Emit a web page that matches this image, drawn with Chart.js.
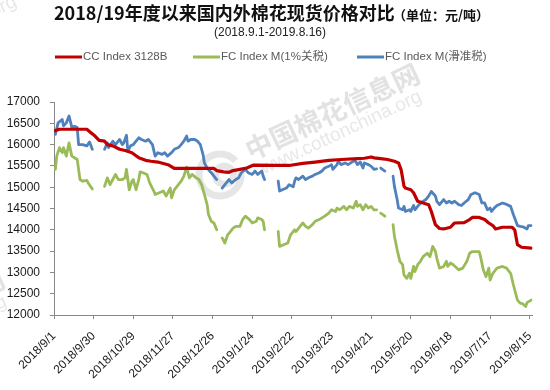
<!DOCTYPE html>
<html>
<head>
<meta charset="utf-8">
<script src="https://cdn.jsdelivr.net/npm/chart.js@4.4.1/dist/chart.umd.min.js"></script>
<style>
  html, body { margin: 0; padding: 0; background: #fff; }
  #wrap { width: 550px; height: 390px; }
</style>
</head>
<body>
<div id="wrap"><canvas id="chart" width="550" height="390"></canvas></div>
<script>
"use strict";

// x values are days counted from 2018/9/1
const tickDays = [0, 29, 58, 87, 116, 145, 174, 203, 232, 261, 290, 319, 348];
const tickLabels = ["2018/9/1", "2018/9/30", "2018/10/29", "2018/11/27", "2018/12/26", "2019/1/24",
  "2019/2/22", "2019/3/23", "2019/4/21", "2019/5/20", "2019/6/18", "2019/7/17", "2019/8/15"];

const seriesNames = ["CC Index 3128B", "FC Index M(1%关税)", "FC Index M(滑准税)"];

// CC Index 3128B
const ccDays = [0, 4, 24, 27, 30, 33, 37, 39, 43, 48, 52, 57, 62, 67, 71, 76, 84, 88, 117, 119,
  124, 128, 131, 136, 141, 146, 162, 172, 182, 191, 201, 210, 222, 227, 232, 234, 239, 244, 249, 252,
  254, 256, 257, 261, 263, 266, 270, 274, 276, 279, 282, 285, 290, 293, 300, 304, 306, 311, 315, 318,
  321, 323, 328, 335, 337, 339, 342, 349];
const ccValues = [16320, 16360, 16360, 16280, 16200, 16100, 16080, 16000, 15970, 15890, 15860, 15810, 15690, 15630, 15610, 15590, 15520, 15440, 15440, 15390,
  15360, 15350, 15390, 15420, 15450, 15520, 15510, 15510, 15560, 15590, 15630, 15650, 15670, 15680, 15710, 15690, 15670, 15650, 15610, 15570,
  15400, 15020, 14980, 14940, 14870, 14670, 14630, 14590, 14430, 14120, 14030, 14020, 14060, 14160, 14170, 14240, 14290, 14290, 14240, 14160,
  14100, 14020, 14060, 14060, 14000, 13650, 13590, 13570];

// FC Index M (1% tariff), null = no quote
const fc1Days = [1, 2, 4, 6, 7, 9, 11, 13, 15, 17, 19, 21, 24, 25, 28, 32,
  37, 39, 41, 43, 45, 47, 50, 52, 53, 55, 57, 58, 60, 62, 63, 65, 68, 70, 73, 74, 77, 80, 82, 85,
  86, 88, 91, 93, 95, 97, 99, 101, 104, 106, 108, 110, 112, 113, 115, 117, 118, 119, 121,
  123, 125, 127, 129, 131, 133, 136, 138, 140, 143, 145, 148, 149, 152, 153, 154, 160,
  164, 165, 168, 171, 173, 176, 177, 180, 182, 184, 186, 189, 191, 194, 196, 198, 201, 203, 206, 207,
  209, 212, 214, 216, 219, 221, 222, 224, 226, 228, 230, 232, 234, 236, 237, 239, 242, 244,
  248, 249, 251, 253, 255, 256, 258, 260, 261, 263, 264, 266, 268, 270, 273, 275, 277, 279, 280, 282,
  285, 287, 288, 290, 292, 294, 296, 299, 302, 304, 306, 311, 312, 314, 316, 318, 319, 321, 324, 328,
  331, 334, 336, 339, 341, 343, 345, 346, 349];
const fc1Values = [15420, 15730, 15930, 15810, 15930, 15730, 16040, 15730, 15690, 15650, 15180, 15140, 15160, 15100, 14960, null,
  15020, 15220, 15060, 15180, 15300, 15180, 15180, 15220, 15420, 14940, 15140, 15180, 14940, 15180, 15360, 15340, 15300, 15100, 14910, 14830, 14870, 14910, 14790, 14980,
  14750, 14940, 15060, 15140, 15260, 15470, 15220, 15300, 15220, 15180, 15060, 14830, 14590, 14360, 14200, 14160, 14080, 14000, null,
  13810, 13690, 13880, 13960, 14040, 14080, 14080, 14240, 14320, 14240, 14160, 14200, 14280, 14240, 14200, 14000, null,
  13960, 13610, 13650, 13690, 13880, 14000, 13960, 14080, 14160, 14080, 14040, 14120, 14200, 14240, 14280, 14320, 14390, 14470, 14430, 14510,
  14470, 14550, 14470, 14550, 14510, 14670, 14550, 14590, 14470, 14590, 14510, 14550, 14470, 14470, null, 14390, 14320, null,
  14120, 13850, 13530, 13260, 13180, 12940, 12860, 12980, 12860, 13140, 13020, 13180, 13260, 13370, 13450, 13370, 13610, 13490, 13330, 13100,
  13140, 13260, 13140, 13220, 13180, 13120, 13060, 13100, 13260, 13450, 13490, 13490, 13370, 13060, 12900, 13100, 12820, 12980, 13100, 13140,
  13100, 12980, 12710, 12350, 12280, 12260, 12200, 12290, 12350];

// FC Index M (sliding-scale duty), null = no quote
const fcsDays = [1, 3, 6, 7, 9, 11, 13, 15, 17, 18, 21, 24, 26, 28, 32,
  37, 39, 40, 43, 45, 48, 50, 51, 53, 54, 56, 58, 60, 62, 64, 67, 69, 72, 74, 76, 79, 81, 83, 86,
  88, 91, 93, 95, 97, 98, 100, 103, 105, 107, 109, 110, 112, 115, 117, 119, 121,
  123, 125, 128, 130, 133, 135, 137, 140, 142, 145, 147, 149, 152, 153, 154, 160,
  164, 165, 167, 170, 172, 175, 176, 177, 179, 182, 184, 186, 189, 191, 194, 196, 198, 201, 203, 204,
  207, 208, 210, 213, 215, 218, 220, 222, 224, 226, 227, 230, 232, 234, 236, 237, 239, 242, 244,
  248, 249, 251, 252, 255, 256, 257, 260, 261, 262, 263, 264, 267, 269, 272, 274, 276, 278, 279, 280,
  282, 285, 287, 289, 291, 293, 296, 298, 300, 303, 305, 308, 311, 313, 315, 317, 319, 320, 322, 324,
  328, 330, 334, 336, 339, 341, 343, 346, 347, 349];
const fcsValues = [16240, 16510, 16590, 16440, 16510, 16670, 16410, 16430, 16400, 16000, 16000, 15970, 16060, 15890, null,
  15890, 16040, 15930, 16080, 16000, 16120, 16000, 16040, 16220, 15850, 15970, 16000, 16080, 16160, 16120, 16080, 16120, 16000, 15730, 15810, 15770, 15810, 15730, 15810,
  15890, 15930, 16000, 16080, 16200, 16080, 16120, 16120, 16080, 16000, 15770, 15570, 15450, 15340, 15260, 15180, null,
  14980, 15060, 15180, 15100, 15180, 15220, 15340, 15420, 15340, 15300, 15380, 15300, 15380, 15260, 15180, null,
  15140, 14910, 14940, 14980, 15060, 15010, 15140, 15220, 15180, 15260, 15180, 15220, 15260, 15300, 15340, 15380, 15450, 15490, 15530, 15420,
  15530, 15610, 15530, 15570, 15530, 15590, 15630, 15530, 15590, 15450, 15570, 15530, 15490, 15420, 15430, null, 15450, 15380, null,
  15260, 15020, 14710, 14510, 14470, 14550, 14430, 14470, 14430, 14510, 14570, 14470, 14590, 14650, 14710, 14790, 14900, 14830, 14790, 14670,
  14590, 14710, 14630, 14670, 14630, 14670, 14590, 14570, 14630, 14710, 14830, 14870, 14830, 14630, 14630, 14470, 14510, 14430, 14510, 14570,
  14630, 14610, 14550, 14360, 14100, 14080, 14070, 14020, 14100, 14100];

const seriesColors = ["#C00000", "#9BBB59", "#4F81BD"];

let toPoints = (days, values) => days.map((d, i) => ({ x: d, y: values[i] }));

const latin = "'Liberation Sans', 'Noto Sans CJK SC', sans-serif";
const cjk = "'Noto Sans CJK SC', 'Liberation Sans', sans-serif";

// faint site watermark, drawn under the lines
let drawWatermark = ctx => {
  let spots = [[0, 0], [-415, 205], [-405, -95]];
  for (let [dx, dy] of spots) {
    ctx.save();
    ctx.translate(220 + dx, 175 + dy);
    ctx.rotate(-25 * Math.PI / 180);
    ctx.strokeStyle = "#e6e6e6";
    ctx.lineWidth = 7;
    ctx.beginPath();
    ctx.arc(0, 0, 21, 0.3, 2 * Math.PI - 0.3);
    ctx.stroke();
    ctx.beginPath();
    ctx.arc(4, 2, 9, 0, 2 * Math.PI);
    ctx.stroke();
    ctx.fillStyle = "#e2e2e2";
    ctx.textBaseline = "middle";
    ctx.font = "bold 27px " + cjk;
    ctx.fillText("中国棉花信息网", 34, -10);
    ctx.fillStyle = "#e8e8e8";
    ctx.font = "19px " + latin;
    ctx.fillText("www.cottonchina.org", 40, 13);
    ctx.restore();
  }
};

const headerPlugin = {
  id: "header",
  beforeDatasetsDraw(chart) {
    drawWatermark(chart.ctx);
  },
  afterDraw(chart) {
    let ctx = chart.ctx;
    ctx.save();
    ctx.textBaseline = "middle";
    ctx.fillStyle = "#111";
    ctx.font = "bold 18px " + cjk;
    ctx.fillText("2018/19年度以来国内外棉花现货价格对比", 54, 13);
    ctx.font = "bold 13px " + cjk;
    ctx.fillText("（单位：元/吨）", 393, 15);
    ctx.fillStyle = "#222";
    ctx.font = "12px " + latin;
    ctx.textAlign = "center";
    ctx.fillText("(2018.9.1-2019.8.16)", 270, 33);

    // legend
    ctx.textAlign = "left";
    ctx.font = "11.5px " + latin;
    let legendX = [55, 193, 357];
    chart.data.datasets.forEach((ds, i) => {
      let x = legendX[i];
      ctx.strokeStyle = ds.borderColor;
      ctx.lineWidth = 3;
      ctx.beginPath();
      ctx.moveTo(x, 57);
      ctx.lineTo(x + 27, 57);
      ctx.stroke();
      ctx.fillStyle = "#595959";
      ctx.fillText(ds.label, x + 28, 57);
    });
    ctx.restore();
  }
};

let axisGrey = "#898989";

new Chart(document.querySelector("#chart"), {
  type: "line",
  plugins: [headerPlugin],
  data: {
    datasets: [
      { label: seriesNames[0], data: toPoints(ccDays, ccValues), borderColor: seriesColors[0], borderWidth: 3.2 },
      { label: seriesNames[1], data: toPoints(fc1Days, fc1Values), borderColor: seriesColors[1], borderWidth: 2.8 },
      { label: seriesNames[2], data: toPoints(fcsDays, fcsValues), borderColor: seriesColors[2], borderWidth: 2.8 }
    ]
  },
  options: {
    responsive: false,
    animation: false,
    spanGaps: false,
    layout: { padding: { top: 102, right: 9, bottom: 0, left: 0 } },
    elements: {
      point: { radius: 0 },
      line: { tension: 0, borderJoinStyle: "round", borderCapStyle: "round", fill: false }
    },
    plugins: {
      legend: { display: false },
      title: { display: false },
      tooltip: { enabled: false }
    },
    scales: {
      x: {
        type: "linear",
        min: 0,
        max: 350,
        afterBuildTicks: axis => { axis.ticks = tickDays.map(v => ({ value: v })); },
        afterFit: axis => { axis.height = 75; },
        grid: { drawOnChartArea: false, drawTicks: true, tickLength: 4, color: axisGrey },
        border: { display: true, color: axisGrey },
        ticks: {
          autoSkip: false,
          minRotation: 45,
          maxRotation: 45,
          padding: 10,
          color: "#1a1a1a",
          font: { family: latin, size: 12 },
          callback: v => tickLabels[tickDays.indexOf(v)]
        }
      },
      y: {
        min: 12000,
        max: 17000,
        afterFit: axis => { axis.width = 54; },
        grid: { drawOnChartArea: false, drawTicks: true, tickLength: 4, color: axisGrey },
        border: { display: true, color: axisGrey },
        ticks: {
          stepSize: 500,
          padding: 10,
          color: "#1a1a1a",
          font: { family: latin, size: 12 },
          callback: v => String(v)
        }
      }
    }
  }
});
</script>
</body>
</html>
